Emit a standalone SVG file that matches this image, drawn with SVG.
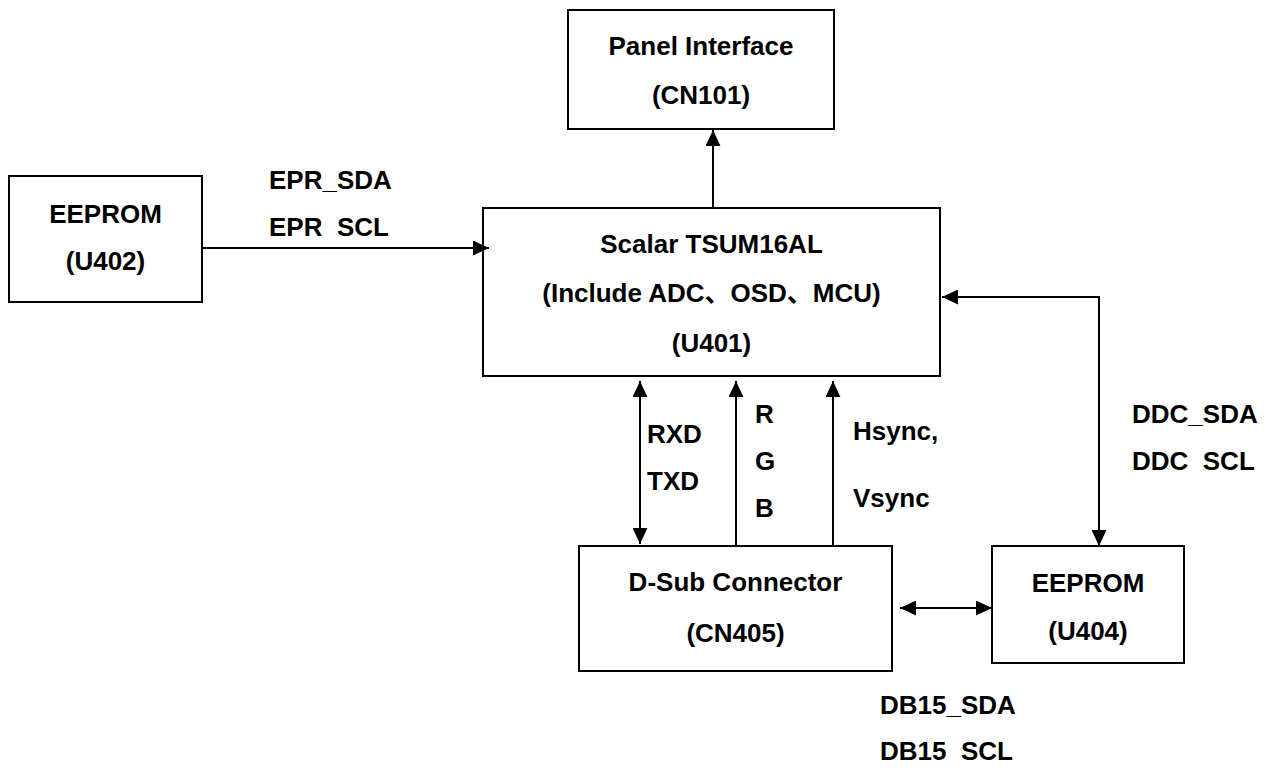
<svg xmlns="http://www.w3.org/2000/svg" width="1271" height="769" viewBox="0 0 1271 769">
<style>
.box{fill:#fff;stroke:#000;stroke-width:2}
.c{fill:none;stroke:#000;stroke-width:2}
text{font-family:"Liberation Sans",Arial,"Noto Sans CJK SC",sans-serif;font-weight:bold;font-size:26px;fill:#000;white-space:pre}
.m{text-anchor:middle}
</style>
<defs>
<marker id="ah" markerUnits="userSpaceOnUse" markerWidth="16" markerHeight="15" viewBox="0 0 15 14" refX="15" refY="7" orient="auto-start-reverse">
<path d="M0,0 L15,7 L0,14 Z" fill="#000"/>
</marker>
</defs>
<rect width="1271" height="769" fill="#fff"/>
<g id="panel">
<rect class="box" x="568" y="10" width="266" height="119"/>
<text class="m" x="701" y="55">Panel Interface</text>
<text class="m" x="701" y="104">(CN101)</text>
</g>
<g id="eeprom-u402">
<rect class="box" x="9" y="176" width="193" height="126"/>
<text class="m" x="105.5" y="223">EEPROM</text>
<text class="m" x="105.5" y="270">(U402)</text>
</g>
<g id="scalar">
<rect class="box" x="483" y="208" width="457" height="168"/>
<text class="m" x="711.5" y="253">Scalar TSUM16AL</text>
<text class="m" x="711.5" y="302">(Include ADC、OSD、MCU)</text>
<text class="m" x="711.5" y="352">(U401)</text>
</g>
<g id="dsub">
<rect class="box" x="579" y="546" width="313" height="125"/>
<text class="m" x="735.5" y="591">D-Sub Connector</text>
<text class="m" x="735.5" y="642">(CN405)</text>
</g>
<g id="eeprom-u404">
<rect class="box" x="992" y="546" width="192" height="117"/>
<text class="m" x="1088" y="592">EEPROM</text>
<text class="m" x="1088" y="640">(U404)</text>
</g>
<g id="connectors">
<path class="c" d="M202,248 H489" marker-end="url(#ah)"/>
<path class="c" d="M713,208 V130" marker-end="url(#ah)"/>
<path class="c" d="M1099,546 V297 H942" marker-start="url(#ah)" marker-end="url(#ah)"/>
<path class="c" d="M640,544 V381" marker-start="url(#ah)" marker-end="url(#ah)"/>
<path class="c" d="M736,546 V381" marker-end="url(#ah)"/>
<path class="c" d="M833,546 V381" marker-end="url(#ah)"/>
<path class="c" d="M900,608 H992" marker-start="url(#ah)" marker-end="url(#ah)"/>
</g>
<g id="labels">
<text x="269" y="189">EPR_SDA</text>
<text x="269" y="236">EPR  SCL</text>
<text x="647" y="443">RXD</text>
<text x="647" y="490">TXD</text>
<text x="755" y="423">R</text>
<text x="755" y="470">G</text>
<text x="755" y="517">B</text>
<text x="853" y="440">Hsync,</text>
<text x="853" y="507">Vsync</text>
<text x="1132" y="423">DDC_SDA</text>
<text x="1132" y="470">DDC  SCL</text>
<text x="880" y="714">DB15_SDA</text>
<text x="880" y="760">DB15  SCL</text>
</g>
</svg>
